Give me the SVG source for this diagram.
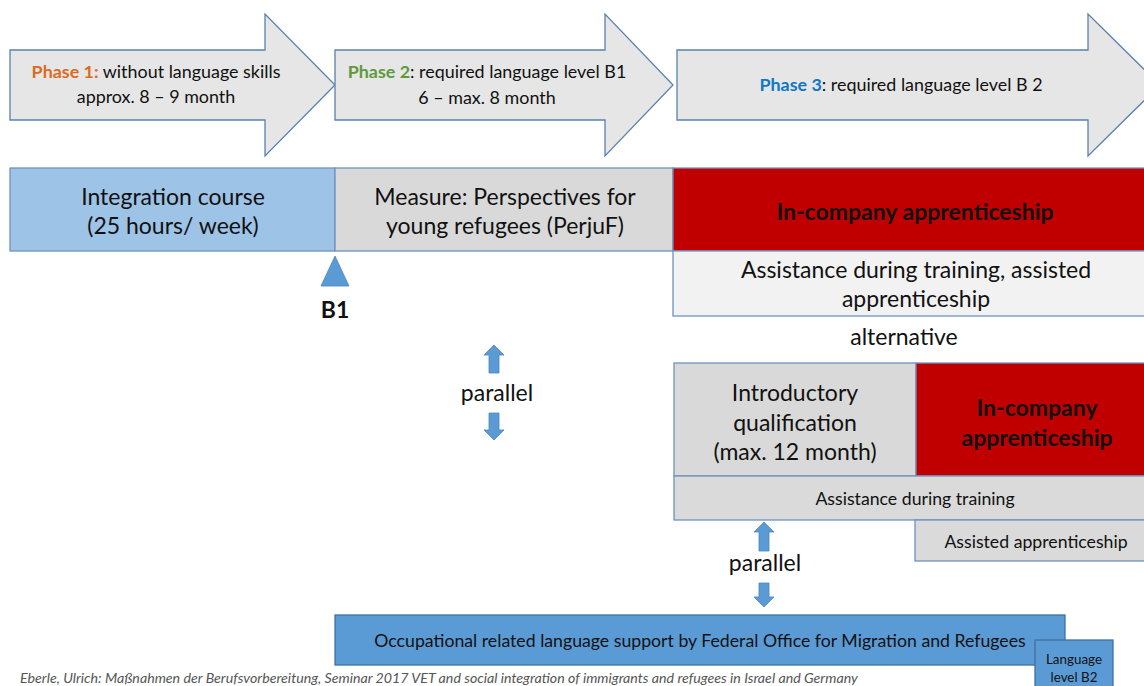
<svg xmlns="http://www.w3.org/2000/svg" width="1144" height="686" viewBox="0 0 1144 686">
<style>
text{font-family:Lato,"Open Sans","Liberation Sans",sans-serif;fill:#111;text-anchor:middle}
.ph{fill:#e6e6e6;stroke:#5a82ad;stroke-width:1.3}
.box{stroke:#6f93bd;stroke-width:1.3}
.t16{font-size:17.9px}
.t20{font-size:23px}
.t15{font-size:17.7px}
.b{font-weight:bold}
.arr{fill:#5b9bd5;stroke:#4a86bf;stroke-width:0.8}
</style>
<rect width="1144" height="686" fill="#fff"/>
<g id="phase1">
<polygon class="ph" points="10,50 265,50 265,14 335,85 265,156 265,120 10,120"/>
<text class="t16" x="156" y="78"><tspan fill="#dc6b1e" font-weight="bold">Phase 1:</tspan> without language skills</text>
<text class="t16" x="156" y="103">approx. 8 – 9 month</text>
</g>
<g id="phase2">
<polygon class="ph" points="335,50 605,50 605,14 673,85 605,156 605,120 335,120"/>
<text class="t16" x="487" y="78"><tspan fill="#5e9a3c" font-weight="bold">Phase 2</tspan>: required language level B1</text>
<text class="t16" x="487" y="104">6 – max. 8 month</text>
</g>
<g id="phase3">
<polygon class="ph" points="677,50 1088,50 1088,14 1160,85 1088,156 1088,120 677,120"/>
<text class="t16" x="901" y="91"><tspan fill="#0e78c6" font-weight="bold">Phase 3</tspan>: required language level B 2</text>
</g>
<g id="integration">
<rect class="box" x="10" y="168" width="325" height="83" fill="#9dc3e6"/>
<text class="t20" x="173" y="205">Integration course</text>
<text class="t20" x="173" y="234">(25 hours/ week)</text>
</g>
<g id="perjuf">
<rect class="box" x="335" y="168" width="338" height="83" fill="#d9d9d9"/>
<text class="t20" x="505" y="205">Measure: Perspectives for</text>
<text class="t20" x="505" y="234">young refugees (PerjuF)</text>
</g>
<g id="apprenticeship1">
<rect class="box" x="673" y="168" width="475" height="83" fill="#c00000"/>
<text class="t20 b" x="915" y="220">In-company apprenticeship</text>
</g>
<g id="assistance1">
<rect class="box" x="673" y="251" width="475" height="65" fill="#f2f2f2"/>
<text class="t20" x="916" y="278">Assistance during training, assisted</text>
<text class="t20" x="916" y="307">apprenticeship</text>
</g>
<g id="alternative">
<text class="t20" x="904" y="345">alternative</text>
</g>
<g id="b1">
<polygon class="arr" points="335,256 349,286 321,286"/>
<text class="t20 b" x="335" y="318">B1</text>
</g>
<g id="intro">
<rect class="box" x="674" y="363" width="242" height="113" fill="#d9d9d9"/>
<text class="t20" x="795" y="401">Introductory</text>
<text class="t20" x="795" y="431">qualification</text>
<text class="t20" x="795" y="460">(max. 12 month)</text>
</g>
<g id="apprenticeship2">
<rect class="box" x="916" y="363" width="232" height="113" fill="#c00000"/>
<text class="t20 b" x="1037" y="416">In-company</text>
<text class="t20 b" x="1037" y="446">apprenticeship</text>
</g>
<g id="assistance2">
<rect class="box" x="674" y="476" width="474" height="44" fill="#dadada"/>
<text class="t15" x="915" y="505">Assistance during training</text>
</g>
<g id="assisted">
<rect class="box" x="915" y="520" width="233" height="41" fill="#dadada"/>
<text class="t15" x="1036" y="548">Assisted apprenticeship</text>
</g>
<g id="occupational">
<rect x="335" y="615" width="730" height="50" fill="#5b9bd5" stroke="#41719c" stroke-width="1.3"/>
<text class="t15" x="700" y="647">Occupational related language support by Federal Office for Migration and Refugees</text>
</g>
<g id="langb2">
<rect x="1035" y="640" width="78" height="50" fill="#5b9bd5" stroke="#41719c" stroke-width="1.3"/>
<text x="1074" y="664" font-size="13.4">Language</text>
<text x="1074" y="682" font-size="13.4">level B2</text>
</g>
<g id="parallel1">
<text class="t20" x="497" y="401">parallel</text>
</g>
<g id="parallel2">
<text class="t20" x="765" y="571">parallel</text>
</g>
<g id="connectors">
<polygon class="arr" points="494,345 504,355 499,355 499,373 489,373 489,355 484,355"/>
<polygon class="arr" points="494,440 504,430 499,430 499,413 489,413 489,430 484,430"/>
<polygon class="arr" points="764,522 774,532 769,532 769,551 759,551 759,532 754,532"/>
<polygon class="arr" points="764,607 774,597 769,597 769,583 759,583 759,597 754,597"/>
</g>
<text x="20" y="683" font-size="14.2" font-style="italic" style="text-anchor:start;fill:#555">Eberle, Ulrich: Maßnahmen der Berufsvorbereitung, Seminar 2017 VET and social integration of immigrants and refugees in Israel and Germany</text>
</svg>
